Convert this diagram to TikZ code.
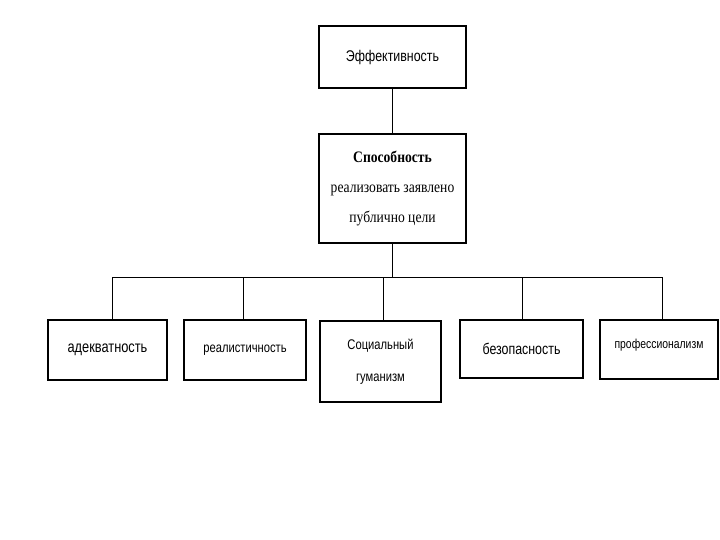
\documentclass[tikz,border=0pt]{standalone}
\usepackage{fontspec}
\setmainfont{Liberation Serif}
\newfontfamily\narrowsans[FakeStretch=0.8]{Liberation Sans}
\newfontfamily\narrowserif[FakeStretch=0.85]{Liberation Serif}
\begin{document}
\begin{tikzpicture}[x=1pt,y=-1pt,
  box/.style={draw=black, line width=1.6pt, inner sep=0pt, fill=white},
  conn/.style={draw=black, line width=0.9pt}]
\useasboundingbox (0,0) rectangle (720,540);
\node[box, minimum width=147pt, minimum height=62pt, font=\narrowsans\fontsize{15.5}{18}\selectfont] (top) at (392.5,57)
  {Эффективность};
\node[box, minimum width=147pt, minimum height=109pt, align=center, font=\narrowserif\fontsize{16}{30}\selectfont] (mid) at (392.5,188.5)
  {\textbf{Способность}\\реализовать заявлено\\публично цели};
\node[box, minimum width=119pt, minimum height=60pt, font=\narrowsans\fontsize{16}{18}\selectfont] (b1) at (107.5,350)
  {адекватность};
\node[box, minimum width=122pt, minimum height=60pt, font=\narrowsans\fontsize{14}{17}\selectfont] (b2) at (245,350)
  {реалистичность};
\node[box, minimum width=121pt, minimum height=81pt, align=center, text depth=2pt, font=\narrowsans\fontsize{14}{32}\selectfont] (b3) at (380.5,361.5)
  {Социальный\\гуманизм};
\node[box, minimum width=123pt, minimum height=58pt, font=\narrowsans\fontsize{15.5}{18}\selectfont] (b4) at (521.5,349)
  {безопасность};
\node[box, minimum width=118pt, minimum height=59pt, text depth=12pt, font=\narrowsans\fontsize{13}{15}\selectfont] (b5) at (659,349.5)
  {профессионализм};
\coordinate (bus) at (0,277);
\draw[conn] (top) -- (mid);
\draw[conn] (mid.south) -- (mid.south |- bus);
\draw[conn] ([xshift=4.5pt]b1.north |- bus) -- ([xshift=3pt]b5.north |- bus);
\draw[conn] ([xshift=4.5pt]b1.north |- bus) -- ([xshift=4.5pt]b1.north);
\draw[conn] ([xshift=-2pt]b2.north |- bus) -- ([xshift=-2pt]b2.north);
\draw[conn] ([xshift=2.5pt]b3.north |- bus) -- ([xshift=2.5pt]b3.north);
\draw[conn] ([xshift=0.5pt]b4.north |- bus) -- ([xshift=0.5pt]b4.north);
\draw[conn] ([xshift=3pt]b5.north |- bus) -- ([xshift=3pt]b5.north);
\end{tikzpicture}
\end{document}
